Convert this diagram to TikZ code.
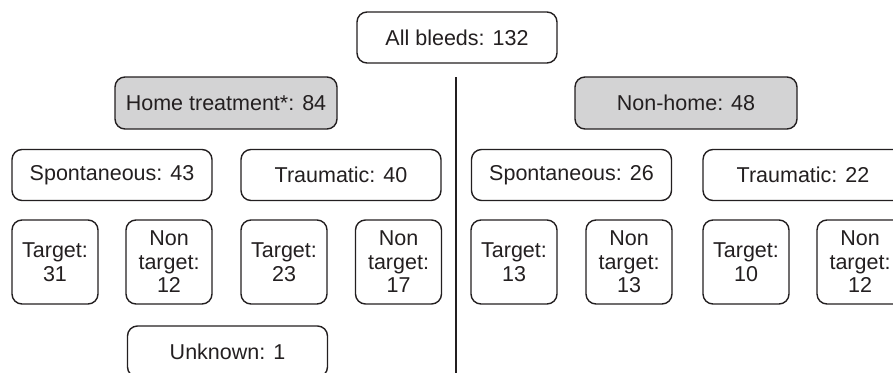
\documentclass[tikz,border=0pt]{standalone}
\usepackage{fontspec}
\setmainfont{Liberation Sans}
\definecolor{ink}{HTML}{231F20}
\definecolor{boxgray}{HTML}{D3D3D4}
\begin{document}
\begin{tikzpicture}[x=1pt,y=-1pt,
  bx/.style={draw=ink, line width=1.4pt, rounded corners=10pt, text=ink,
    inner sep=0pt, align=center, font=\fontsize{21.5}{23.5}\selectfont,
    minimum height=51pt},
  wide/.style={bx, minimum width=200pt},
  gbox/.style={bx, fill=boxgray, minimum width=222pt, minimum height=52pt},
  small/.style={bx, minimum width=86pt, minimum height=84pt},
  divider/.style={draw=ink, line width=2pt}]
\path[use as bounding box, clip] (0,0) rectangle (893,372);
\node[wide] (all) at (457,37.5) {All bleeds: 132};
\node[gbox] (home) at (226,103) {Home treatment*: 84};
\node[gbox] (nonhome) at (686,103) {Non-home: 48};
\node[wide] (sp1) at (112,175) {Spontaneous: 43};
\node[wide] (tr1) at (341,175) {Traumatic: 40};
\node[wide] (sp2) at (571.5,175) {Spontaneous: 26};
\node[wide] (tr2) at (803,175) {Traumatic: 22};
\node[small] (t31) at (55,262) {Target:\\31};
\node[small] (nt12) at (169,262) {Non\\target:\\12};
\node[small] (t23) at (284,262) {Target:\\23};
\node[small] (nt17) at (398.5,262) {Non\\target:\\17};
\node[small] (t13) at (514,262) {Target:\\13};
\node[small] (nt13) at (629,262) {Non\\target:\\13};
\node[small] (t10) at (746,262) {Target:\\10};
\node[small] (nt12b) at (860,262) {Non\\target:\\12};
\node[wide] (unk) at (227.5,351.5) {Unknown: 1};
\coordinate (dtop) at (456,77);
\coordinate (dbot) at (456,380);
\draw[divider] (dtop) -- (dbot);
\end{tikzpicture}
\end{document}
